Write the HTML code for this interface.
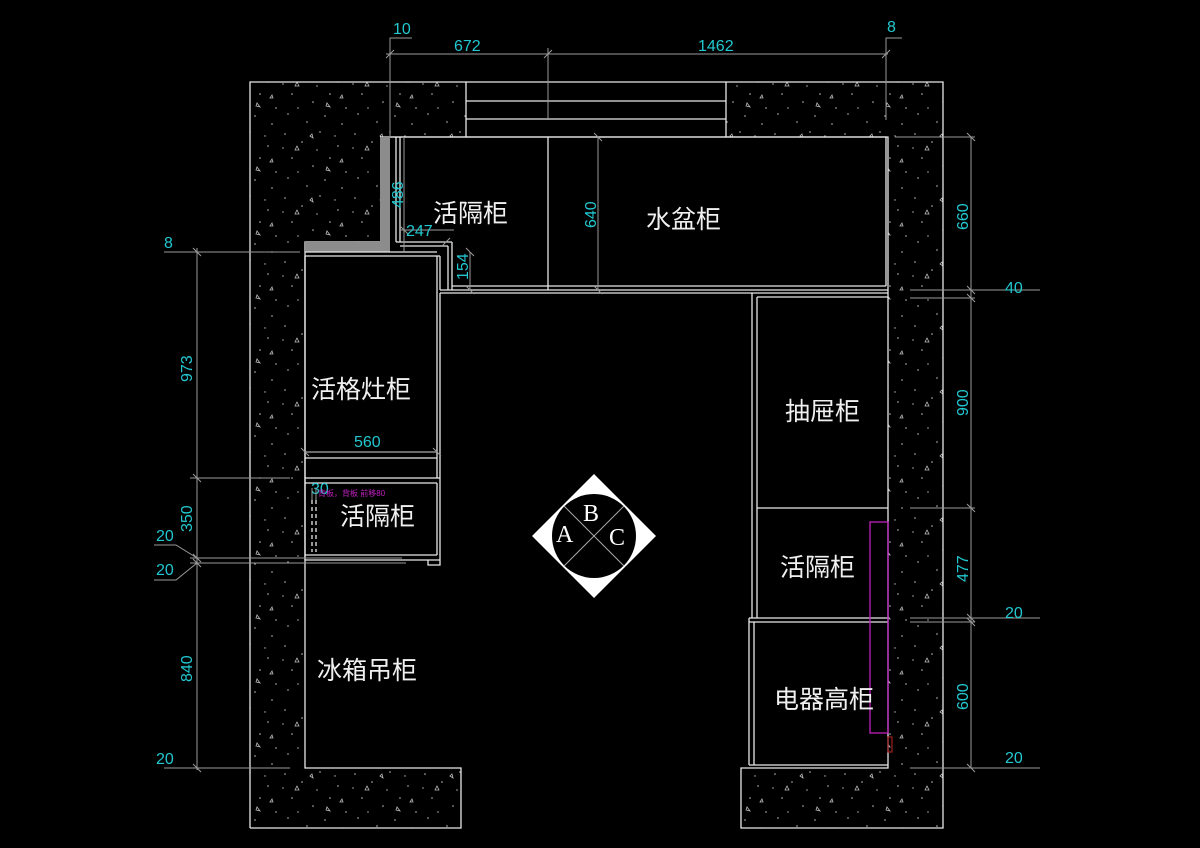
<!DOCTYPE html>
<html><head><meta charset="utf-8"><style>
html,body{margin:0;padding:0;background:#000;}
svg{display:block}
.w{stroke:#e8e8e8;stroke-width:1.3;fill:none}
.g{stroke:#9a9a9a;stroke-width:1;fill:none}
.c{fill:#22c8d0;font-family:"Liberation Sans",sans-serif;font-size:16px}
.t{fill:#f0f0f0;font-family:"Liberation Sans","Noto Sans CJK SC",sans-serif;font-size:25px}
</style></head><body>
<svg width="1200" height="848" viewBox="0 0 1200 848" xmlns="http://www.w3.org/2000/svg">
<defs>
<pattern id="sp" width="70" height="64" patternUnits="userSpaceOnUse">
<g fill="#bbb">
<circle cx="5" cy="6" r="0.8"/><circle cx="22" cy="14" r="0.8"/><circle cx="40" cy="4" r="0.8"/><circle cx="58" cy="18" r="0.8"/>
<circle cx="12" cy="30" r="0.8"/><circle cx="33" cy="38" r="0.8"/><circle cx="50" cy="30" r="0.8"/><circle cx="66" cy="44" r="0.8"/>
<circle cx="8" cy="50" r="0.8"/><circle cx="27" cy="58" r="0.8"/><circle cx="45" cy="52" r="0.8"/><circle cx="62" cy="60" r="0.8"/>
<circle cx="18" cy="44" r="0.7"/><circle cx="37" cy="22" r="0.7"/><circle cx="55" cy="8" r="0.7"/><circle cx="3" cy="20" r="0.7"/>
</g>
<g stroke="#bbb" stroke-width="0.8" fill="none">
<path d="M15 22 l4 0 l-2 -4 z"/><path d="M46 42 l4 1 l-3 -4 z"/><path d="M30 8 l3 2 l-1 -4 z"/><path d="M60 34 l3 0 l-1 -3 z"/>
</g>
</pattern>
</defs>
<path d="M250 82 H466 V137 H380 V242 H305 V768 H461 V828 H250 Z" fill="url(#sp)"/>
<path d="M726 82 H943 V828 H741 V768 H888 V137 H726 Z" fill="url(#sp)"/>
<path class="w" d="M250 828 V82 H466 V137 H380 M380 242 H305 V768 H461 V828 H250"/>
<path class="w" d="M726 82 H943 V828 H741 V768 H888 V137 H726 Z"/>
<path class="w" d="M466 82 H726 M466 101 H726 M466 119 H726 M466 137 H726"/>
<path d="M380 137 H390 V242 V252 H305 V242 H380 Z" fill="#8c8c8c"/>
<path class="w" d="M390 137 H886 V286 M396 137 V242 M400 137 V242 M548 137 V290 M396 242 H452 M400 246 H448 M448 246 V290 M452 242 V290 M305 252 H437 M305 256 H440 M440 256 V290 M437 256 V452 M452 286 H886 M440 290 H888 M440 293 H888"/>
<path class="w" d="M305 256 V560 M437 452 V478 M305 452 H437 M305 458 H437 M305 478 H440 M305 483 H437 M440 293 V560 M437 483 V555 M305 555 H437 M305 560 H440 M428 560 V565 H440 V560"/>
<path class="w" stroke-dasharray="4 3" d="M312 500 V552 M316 500 V552"/>
<path class="w" d="M752 293 V618 M757 297 V618 M757 297 H888 M757 508 H888 M749 618 H888 M749 622 H888 M749 618 V765 M754 622 V765 M749 765 H888"/>
<rect x="870" y="522" width="18" height="211" fill="none" stroke="#c020c0" stroke-width="1.3"/>
<rect x="888" y="737" width="4" height="15" fill="none" stroke="#a02020" stroke-width="1.2"/>
<path class="g" d="M386 54 H888 M390 48 V137 M548 48 V120 M886 48 V120 M386 58 l8 -8 M544 58 l8 -8 M882 58 l8 -8 M390 50 V38 H412 M886 50 V38 H902"/>
<text class="c" x="393" y="34">10</text><text class="c" x="454" y="51">672</text>
<text class="c" x="698" y="51">1462</text><text class="c" x="887" y="32">8</text>
<path class="g" d="M197 248 V770 M164 252 H300 M190 478 H290 M190 558 H402 M190 563 H406 M164 768 H290 M193 248 l8 8 M193 474 l8 8 M193 554 l8 8 M193 559 l8 8 M193 764 l8 8 M154 545 H176 L197 558 M154 580 H176 L197 563"/>
<text class="c" x="164" y="248">8</text>
<text class="c" x="156" y="541">20</text><text class="c" x="156" y="575">20</text><text class="c" x="156" y="764">20</text>
<text class="c" transform="translate(192,382) rotate(-90)">973</text>
<text class="c" transform="translate(192,532) rotate(-90)">350</text>
<text class="c" transform="translate(192,682) rotate(-90)">840</text>
<path class="g" d="M971 137 V768 M895 137 H975 M910 290 H1040 M910 298 H975 M910 508 H975 M910 618 H1040 M910 622 H975 M910 768 H1040 M967 133 l8 8 M967 286 l8 8 M967 294 l8 8 M967 504 l8 8 M967 614 l8 8 M967 618 l8 8 M967 764 l8 8"/>
<text class="c" x="1005" y="293">40</text><text class="c" x="1005" y="618">20</text><text class="c" x="1005" y="763">20</text>
<text class="c" transform="translate(968,230) rotate(-90)">660</text>
<text class="c" transform="translate(968,416) rotate(-90)">900</text>
<text class="c" transform="translate(968,582) rotate(-90)">477</text>
<text class="c" transform="translate(968,710) rotate(-90)">600</text>
<path class="g" d="M404 137 V252 M454 230 H400 M470 252 V290 M598 137 V290 M305 452 H437 M400 226 l8 8 M466 248 l8 8 M466 286 l8 8 M594 133 l8 8 M594 286 l8 8 M301 448 l8 8 M433 448 l8 8 M450 238 l-8 8"/>
<text class="c" transform="translate(403,208) rotate(-90)">486</text>
<text class="c" x="406" y="236">247</text>
<text class="c" transform="translate(468,280) rotate(-90)">154</text>
<text class="c" transform="translate(596,228) rotate(-90)">640</text>
<text class="c" x="354" y="447">560</text>
<text class="c" x="311" y="494">30</text>
<text x="318" y="496" fill="#c020c0" font-size="8" font-family="Liberation Sans,Noto Sans CJK SC,sans-serif">背板，背板 前移80</text>
<path class="g" d="M312 500 V488 M316 500 V488"/>
<text class="t" x="433" y="222">活隔柜</text>
<text class="t" x="646" y="228">水盆柜</text>
<text class="t" x="311" y="398">活格灶柜</text>
<text class="t" x="340" y="525">活隔柜</text>
<text class="t" x="785" y="420">抽屉柜</text>
<text class="t" x="780" y="576">活隔柜</text>
<text class="t" x="774" y="708">电器高柜</text>
<text class="t" x="317" y="679">冰箱吊柜</text>
<polygon points="594,474 656,536 594,598 532,536" fill="#fff"/>
<circle cx="594" cy="536" r="42" fill="#000"/>
<path d="M564 506 L624 566 M624 506 L564 566" stroke="#aaa" stroke-width="1"/>
<g fill="#fff" font-family="Liberation Serif,serif" font-size="24">
<text x="556" y="542">A</text><text x="583" y="521">B</text><text x="609" y="545">C</text>
</g>
</svg>
</body></html>
